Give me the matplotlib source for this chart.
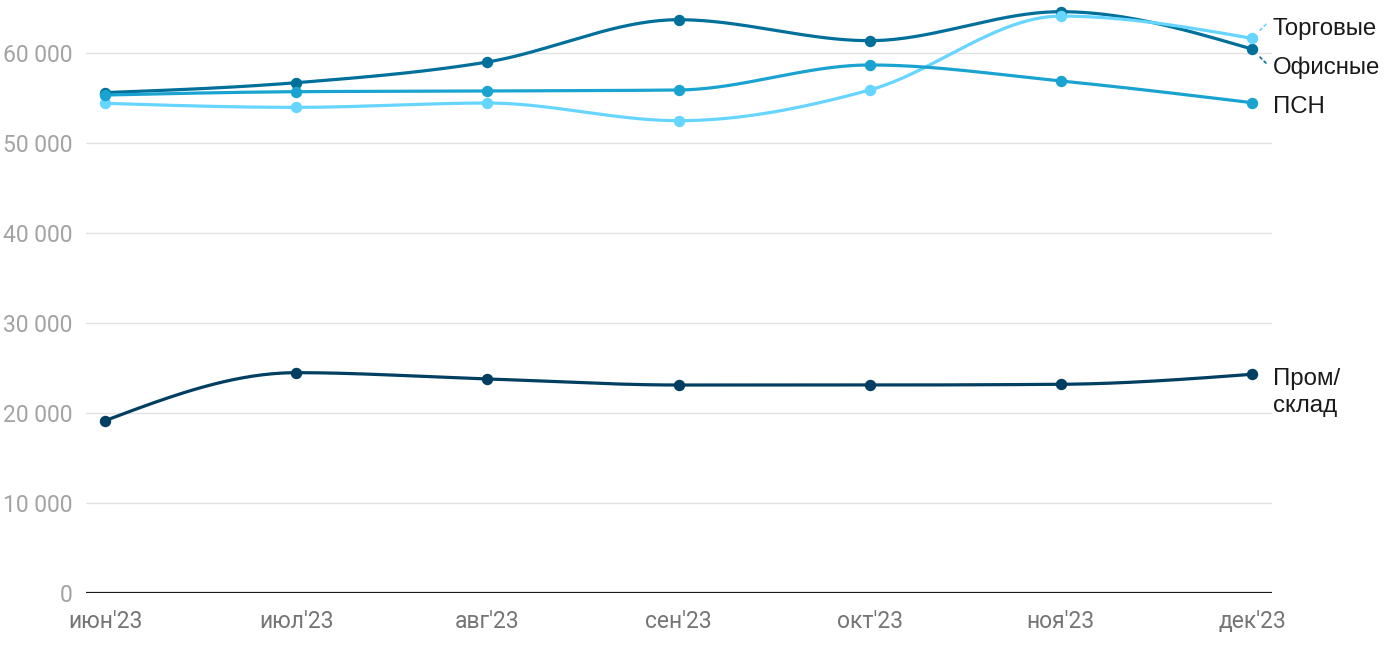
import numpy as np
import matplotlib
matplotlib.use('Agg')
import matplotlib.pyplot as plt

months = ["июн'23", "июл'23", "авг'23", "сен'23", "окт'23", "ноя'23", "дек'23"]
office = [55600, 56700, 59000, 63700, 61370, 64590, 60440]
retail = [54410, 53960, 54440, 52480, 55890, 64100, 61630]
psn = [55330, 55700, 55780, 55890, 58670, 56890, 54480]
industrial = [19150, 24480, 23780, 23110, 23110, 23190, 24300]

series_names = ['Офисные', 'Торговые', 'ПСН', 'Пром/\nсклад']
series_values = [office, retail, psn, industrial]
series_colors = ['#00709b', '#66d5ff', '#1aa3d0', '#003f62']
yticks = [0, 10000, 20000, 30000, 40000, 50000, 60000]


def monotone_x(y, n=40):
    # d3 curveMonotoneX on evenly spaced x
    y = np.asarray(y, dtype=float)
    x = np.arange(len(y), dtype=float)
    s = np.diff(y)
    t = np.zeros(len(y))
    for i in range(1, len(y) - 1):
        s0, s1 = s[i - 1], s[i]
        p = (s0 + s1) / 2
        t[i] = (np.sign(s0) + np.sign(s1)) * min(abs(s0), abs(s1), 0.5 * abs(p))
    t[0] = (3 * s[0] - t[1]) / 2
    t[-1] = (3 * s[-1] - t[-2]) / 2
    xs, ys = [], []
    for i in range(len(y) - 1):
        u = np.linspace(0, 1, n)
        h00 = 2 * u**3 - 3 * u**2 + 1
        h10 = u**3 - 2 * u**2 + u
        h01 = -2 * u**3 + 3 * u**2
        h11 = u**3 - u**2
        xs.append(x[i] + u)
        ys.append(h00 * y[i] + h10 * t[i] + h01 * y[i + 1] + h11 * t[i + 1])
    return np.concatenate(xs), np.concatenate(ys)


plt.rcParams['font.family'] = ['Roboto', 'DejaVu Sans']
label_font = ['Liberation Sans', 'DejaVu Sans']

fig = plt.figure(figsize=(14, 6.5), dpi=100)
ax = fig.add_axes([86 / 1400, 1 - 593 / 650, (1272 - 86) / 1400, 585 / 650])
ax.set_xlim(-0.1, 6.105)
ax.set_ylim(0, 65000)

for name, vals, col in zip(series_names, series_values, series_colors):
    xs, ys = monotone_x(vals)
    ax.plot(xs, ys, color=col, lw=2.3, solid_capstyle='round', clip_on=False, zorder=3)
    ax.plot(range(len(vals)), vals, 'o', color=col, ms=7.2, clip_on=False, zorder=4)

for v in yticks[1:]:
    ax.axhline(v, color='#e2e2e2', lw=1, zorder=1)
ax.axhline(0, color='#1a1a1a', lw=1.6, zorder=2)

ax.set_yticks(yticks)
ax.set_yticklabels([f'{v:,}'.replace(',', ' ') for v in yticks])
ax.set_xticks(range(len(months)))
ax.set_xticklabels(months)
ax.tick_params(axis='y', length=0, pad=10, labelsize=16.5, labelcolor='#a3a3a3')
ax.tick_params(axis='x', length=0, pad=12, labelsize=16.5, labelcolor='#757575')
for sp in ax.spines.values():
    sp.set_visible(False)

# end labels, offsets in pixels from the last point
last = len(months) - 1
label_offsets = {'Офисные': (21, -19), 'Торговые': (21, 9), 'ПСН': (21, -4), 'Пром/\nсклад': (21, 6)}
for name, vals in zip(series_names, series_values):
    dx, dy = label_offsets[name]
    va = 'top' if '\n' in name else 'center'
    ax.annotate(name, xy=(last, vals[-1]), xytext=(dx * 0.72, dy * 0.72),
                textcoords='offset points', ha='left', va=va, fontsize=17.3,
                family=label_font, color='#1a1a1a', linespacing=1.3,
                annotation_clip=False)

# dotted leader lines for the two displaced labels
for vals, col, end in [(retail, series_colors[1], (14, 14)),
                       (office, series_colors[0], (14, -14))]:
    ax.annotate('', xy=(last, vals[-1]), xytext=(end[0] * 0.72, end[1] * 0.72),
                textcoords='offset points', annotation_clip=False,
                arrowprops=dict(arrowstyle='-', color=col, lw=1.2, ls=(0, (1.5, 2)),
                                shrinkA=0, shrinkB=6))

fig.savefig('out.png', dpi=100)
